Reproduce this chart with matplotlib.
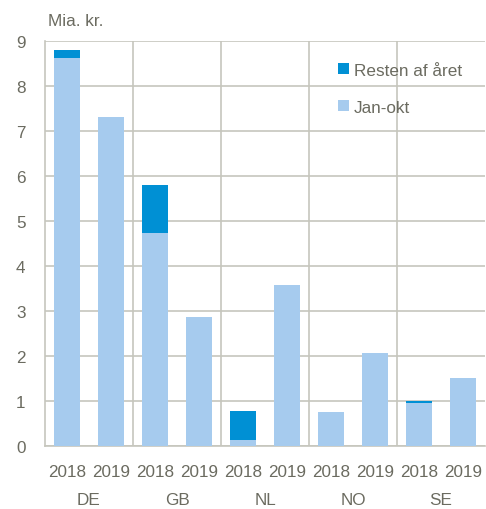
import matplotlib
matplotlib.use("Agg")
import matplotlib.pyplot as plt
from matplotlib.transforms import blended_transform_factory

# Data (Mia. kr.)
COUNTRIES = ["DE", "GB", "NL", "NO", "SE"]
YEARS = ["2018", "2019"]
JAN_OKT = [8.63, 7.31, 4.73, 2.87, 0.13, 3.58, 0.76, 2.07, 0.96, 1.51]
RESTEN = [0.18, 0.0, 1.07, 0.0, 0.64, 0.0, 0.0, 0.0, 0.03, 0.0]

C_JAN = "#a6cbee"
C_REST = "#0090d4"
C_GRID = "#c6c6bd"
C_TEXT = "#6b6b60"
FS = 12.3

plt.rcParams["font.family"] = ["Liberation Sans", "DejaVu Sans"]

fig = plt.figure(figsize=(4.86, 5.10), dpi=100)
ax = fig.add_axes([45 / 486, 1 - 447 / 510, 440 / 486, 405 / 510])

x = list(range(len(JAN_OKT)))
ax.bar(x, JAN_OKT, width=0.57, color=C_JAN, label="Jan-okt", zorder=3)
ax.bar(x, RESTEN, width=0.57, bottom=JAN_OKT, color=C_REST,
       label="Resten af året", zorder=3)

ax.set_xlim(-0.5, len(x) - 0.5)
ax.set_ylim(0, 9)
ax.set_yticks(range(0, 10))
ax.yaxis.grid(True, color=C_GRID, lw=1.2, zorder=0)
for xv in [1.5, 3.5, 5.5, 7.5]:
    ax.axvline(xv, color=C_GRID, lw=1.2, zorder=1)

ax.set_xticks(x)
ax.set_xticklabels(YEARS * len(COUNTRIES))
ax.tick_params(axis="both", length=0, labelsize=FS, colors=C_TEXT)
ax.tick_params(axis="x", pad=13)
ax.tick_params(axis="y", pad=14)

trans = blended_transform_factory(ax.transData, fig.transFigure)
for i, c in enumerate(COUNTRIES):
    ax.text(2 * i + 0.5, 1 - 501 / 510, c, transform=trans, ha="center",
            va="center", fontsize=FS, color=C_TEXT)

for s in ["top", "right"]:
    ax.spines[s].set_visible(False)
for s in ["left", "bottom"]:
    ax.spines[s].set_color(C_GRID)
    ax.spines[s].set_linewidth(1.2)

fig.text(48 / 486, 1 - 22 / 510, "Mia. kr.", ha="left", va="center",
         fontsize=FS, color=C_TEXT)

h, l = ax.get_legend_handles_labels()
leg = ax.legend(h[::-1], l[::-1], loc="upper left",
                bbox_to_anchor=(329 / 486, 1 - 55 / 510),
                bbox_transform=fig.transFigure, frameon=False,
                fontsize=FS, handlelength=0.65, handleheight=0.65,
                handletextpad=0.3, labelspacing=1.3, borderpad=0)
for t in leg.get_texts():
    t.set_color(C_TEXT)

fig.savefig("out.png", dpi=100)
